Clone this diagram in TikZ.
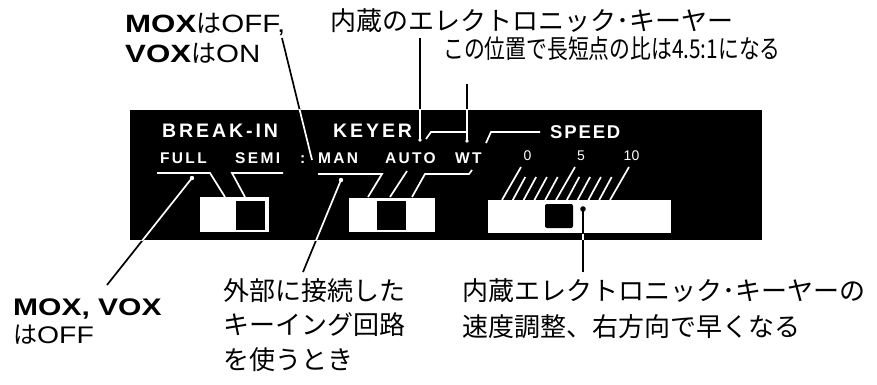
\documentclass[tikz,border=0pt]{standalone}
\usepackage{fontspec}
\usepackage{graphicx}
\newfontfamily\jpf{Noto Sans CJK JP}
\newfontfamily\latf{Liberation Sans}
\newfontfamily\panf[LetterSpace=15]{Liberation Sans}
\newfontfamily\spdf[LetterSpace=10]{Liberation Sans}
\newcommand\MyB[1]{\scalebox{1.25}[1]{\latf\bfseries #1}}
\newcommand\MyR[1]{\scalebox{1.18}[1]{\latf #1}}
\newcommand\MyJ[1]{{\jpf #1}}
\begin{document}
\begin{tikzpicture}[x=1pt,y=-1pt,
  lbl/.style={inner sep=0pt, anchor=base west, font=\fontsize{25}{30}\selectfont},
  lblsm/.style={inner sep=0pt, anchor=base west, font=\fontsize{24}{28}\selectfont},
  jtxt/.style={inner sep=0pt, anchor=base west, font=\jpf\fontsize{26}{30}\selectfont},
  ptxt/.style={inner sep=0pt, anchor=base west, text=white, font=\panf\bfseries\fontsize{19.5}{22}\selectfont},
  sptxt/.style={inner sep=0pt, anchor=base west, text=white, font=\spdf\bfseries\fontsize{18.5}{22}\selectfont},
  stxt/.style={inner sep=0pt, anchor=base west, text=white, font=\panf\bfseries\fontsize{15.5}{18}\selectfont},
  ntxt/.style={inner sep=0pt, anchor=base, text=white, font=\latf\fontsize{14}{16}\selectfont},
  bl/.style={line width=1.7pt, draw=black},
  wl/.style={line width=1.7pt, draw=white},
]
\useasboundingbox (0,0) rectangle (877,385);
\fill[white] (0,0) rectangle (877,385);

% panel
\fill[black] (130,110) rectangle (762,240);

% slider boxes
\fill[white] (200,197) rectangle (269,232);
\fill[black] (236,201) rectangle (265,230);
\fill[white] (349,198) rectangle (435,232);
\fill[black] (377,201) rectangle (406,230);
\fill[white] (488,200) rectangle (671,233);
\fill[black, rounded corners=2pt] (545,204) rectangle (573,228);

% white guide lines in the panel
\draw[wl] (157,173) -- (210,173) -- (225,197);
\draw[wl] (283,173) -- (232,173) -- (245,197);
\draw[wl] (318,174) -- (382,174) -- (368,197);
\draw[wl] (407,171) -- (390,197);
\draw[wl] (472,170) -- (469,174) -- (425,174) -- (412,197);
\draw[wl] (426,139) -- (431,132) -- (466,132);
\draw[wl] (486,143) -- (491,132) -- (540,132);

% speed scale
\foreach \i in {1,2,3,4,6,7,8,9}
  \draw[wl] ({502+10.8*\i},200) -- ++(12.5,-23);
\foreach \i in {0,5,10}
  \draw[wl] ({502+10.8*\i},200) -- ++(19,-33);

% leader coordinates
\coordinate (mvA) at (282,38);  \coordinate (mvB) at (312,160);
\coordinate (kA)  at (420,38);  \coordinate (kB)  at (420,140);
\coordinate (rA)  at (467,84);  \coordinate (rB)  at (467,141);
\coordinate (fA)  at (192,178); \coordinate (fB)  at (107,285);
\coordinate (mA)  at (341,180); \coordinate (mB)  at (303,272);
\coordinate (sA)  at (583,209); \coordinate (sB)  at (583,272);
\coordinate (sM1) at (583,233.5); \coordinate (sM2) at (583,240);

\draw[bl] (mvA) -- (mvB);
\draw[bl] (kA) -- (kB);
\draw[bl] (rA) -- (rB);
\draw[bl] (fA) -- (fB);
\draw[bl] (mA) -- (mB);
\draw[bl] (sA) -- (sB);
\begin{scope}
  \clip (130,110) rectangle (762,240);
  \draw[wl] (mvA) -- (mvB);
  \draw[wl] (kA) -- (kB);
  \draw[wl] (rA) -- (rB);
  \draw[wl] (fA) -- (fB);
  \draw[wl] (mA) -- (mB);
  \draw[wl] (sM1) -- (sM2);
\end{scope}
\fill[white] (fA) circle (2.2pt);
\fill[white] (mA) circle (2.2pt);
\fill[white] (kB) circle (1.9pt);
\fill[white] (rB) circle (1.9pt);
\fill[black] (sA) circle (2.8pt);

% panel texts
\node[ptxt] (brk) at (162,137) {BREAK-IN};
\node[ptxt] (key) at (333,137) {KEYER};
\node[sptxt] (spd) at (550,138) {SPEED};
\node[stxt] (full) at (160,163) {FULL};
\node[stxt] (semi) at (235,163) {SEMI};
\node[stxt] (col) at (300,163) {:};
\node[stxt] (man) at (318,163) {MAN};
\node[stxt] (auto) at (385,163) {AUTO};
\node[stxt] (wt) at (455,163) {WT};
\node[ntxt] (n0) at (527.5,160) {0};
\node[ntxt] (n5) at (581,160) {5};
\node[ntxt] (n10) at (631.5,160) {10};

% outer texts
\node[lbl] (t1) at (125,33) {\MyB{MOX}\MyJ{は}\MyR{OFF,}};
\node[lbl] (t2) at (125,63) {\MyB{VOX}\MyJ{は}\MyR{ON}};
\node[jtxt] (t3) at (330,31) {内蔵のエレクトロニック･キーヤー};
\node[jtxt] (t4) at (443,59) {\scalebox{0.8}[1]{この位置で長短点の比は4.5:1になる}};
\node[lblsm] (b1) at (13,315) {\MyB{MOX, VOX}};
\node[lblsm] (b2) at (13,343) {\MyJ{は}\MyR{OFF}};
\node[jtxt] (c1) at (223,300) {外部に接続した};
\node[jtxt] (c2) at (223,334) {キーイング回路};
\node[jtxt] (c3) at (223,369) {を使うとき};
\node[jtxt] (d1) at (462,300) {内蔵エレクトロニック･キーヤーの};
\node[jtxt] (d2) at (462,336) {速度調整、右方向で早くなる};
\end{tikzpicture}
\end{document}
